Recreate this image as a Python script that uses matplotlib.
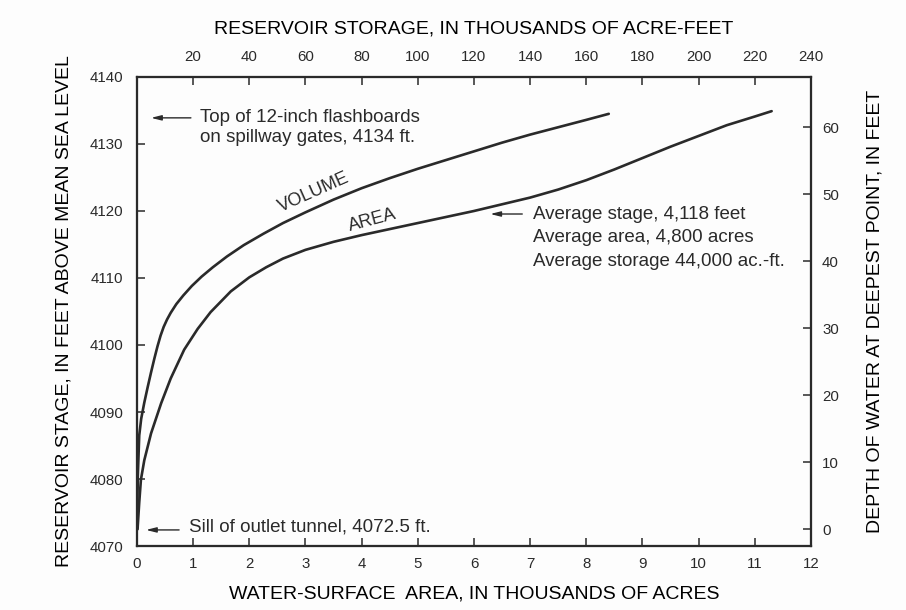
import matplotlib
matplotlib.use("Agg")
import matplotlib.pyplot as plt

# ---- data ----
volume_storage = [0, 0.3, 0.8, 1.5, 2.6, 3.8, 5.0, 6.2, 7.3, 8.4, 9.5, 10.7, 12.0, 14.0, 16.5,
                  19.5, 23.0, 27.0, 32.0, 38.0, 45.0, 52.0, 60.0, 70.0, 80.0, 90.0, 100.0,
                  110.0, 120.0, 130.0, 140.0, 150.0, 160.0, 168.0]
volume_stage = [4072.5, 4080.5, 4086.5, 4089.0, 4091.4, 4093.7, 4095.9, 4098.0, 4099.8, 4101.4,
                4102.7, 4103.8, 4104.8, 4106.1, 4107.4, 4108.8, 4110.2, 4111.6, 4113.2, 4114.9,
                4116.6, 4118.2, 4119.8, 4121.7, 4123.4, 4124.9, 4126.3, 4127.6, 4128.9,
                4130.2, 4131.4, 4132.5, 4133.6, 4134.5]

area_acres = [0.01, 0.04, 0.07, 0.13, 0.25, 0.43, 0.60, 0.84, 1.08, 1.31, 1.67, 2.0, 2.3, 2.6,
              3.0, 3.5, 4.0, 4.5, 5.0, 5.5, 6.0, 6.5, 7.0, 7.5, 8.0, 8.5, 9.0, 9.5, 10.0,
              10.5, 11.0, 11.3]
area_stage = [4072.5, 4076.5, 4079.9, 4082.8, 4086.8, 4091.3, 4095.0, 4099.3, 4102.4, 4104.9,
              4108.0, 4110.1, 4111.6, 4112.9, 4114.2, 4115.4, 4116.4, 4117.3, 4118.2, 4119.1,
              4120.0, 4121.0, 4122.0, 4123.2, 4124.6, 4126.2, 4127.9, 4129.6, 4131.2,
              4132.8, 4134.1, 4134.9]

bottom_ticks = list(range(0, 13))
top_ticks = list(range(20, 241, 20))
left_ticks = list(range(4070, 4141, 10))
right_ticks = list(range(0, 61, 10))
sill_stage = 4072.5

ink = "#2a2a2a"
plt.rcParams['font.family'] = ['Liberation Sans', 'DejaVu Sans']
plt.rcParams['text.color'] = ink
plt.rcParams['axes.edgecolor'] = ink
plt.rcParams['xtick.color'] = ink
plt.rcParams['ytick.color'] = ink

fig = plt.figure(figsize=(9.06, 6.10), dpi=100, facecolor="#fdfdfd")
ax = fig.add_axes([0.1512, 0.1049, 0.7439, 0.7689])
ax.set_facecolor("#fdfdfd")
ax.set_xlim(0, 12)
ax.set_ylim(4070, 4140)
ax.set_xticks(bottom_ticks)
ax.set_yticks(left_ticks)

ax_top = ax.twiny()
ax_top.set_xlim(0, 240)
ax_top.set_xticks(top_ticks)

ax_r = ax.twinx()
ax_r.set_ylim(4070 - sill_stage, 4140 - sill_stage)
ax_r.set_yticks(right_ticks)

for a in (ax, ax_top, ax_r):
    for s in a.spines.values():
        s.set_linewidth(1.5)
        s.set_color(ink)
    a.tick_params(direction="in", length=6, width=1.1, labelsize=10.8, colors=ink)

ax.tick_params(axis="x", pad=8)
ax.tick_params(axis="y", pad=10)
ax_top.tick_params(axis="x", pad=9)
ax_r.tick_params(axis="y", pad=8)

ax.plot(area_acres, area_stage, color=ink, lw=1.9, solid_capstyle="round", solid_joinstyle="round")
ax_top.plot(volume_storage, volume_stage, color=ink, lw=1.9, solid_capstyle="round", solid_joinstyle="round")

ax.set_xlabel("WATER-SURFACE  AREA, IN THOUSANDS OF ACRES", fontsize=14, labelpad=10)
ax_top.set_xlabel("RESERVOIR STORAGE, IN THOUSANDS OF ACRE-FEET", fontsize=14, labelpad=12)
ax.set_ylabel("RESERVOIR STAGE, IN FEET ABOVE MEAN SEA LEVEL", fontsize=14, labelpad=12)
ax_r.set_ylabel("DEPTH OF WATER AT DEEPEST POINT, IN FEET", fontsize=14, labelpad=20)

ax.text(3.15, 4122.8, "VOLUME", rotation=24, fontsize=13, ha="center", va="center")
ax.text(4.19, 4118.6, "AREA", rotation=15, fontsize=13, ha="center", va="center")

arrow = dict(arrowstyle="-|>,head_length=0.6,head_width=0.15", color=ink, lw=1.0,
             shrinkA=0, shrinkB=0)
ann_fs = 13.5

ax.annotate("", xy=(0.25, 4133.9), xytext=(0.96, 4133.9), arrowprops=arrow)
ax.text(1.13, 4133.9, "Top of 12-inch flashboards", fontsize=ann_fs, ha="left", va="center")
ax.text(1.13, 4130.9, "on spillway gates, 4134 ft.", fontsize=ann_fs, ha="left", va="center")

ax.annotate("", xy=(6.29, 4119.55), xytext=(6.86, 4119.55), arrowprops=arrow)
ax.text(7.05, 4119.55, "Average stage, 4,118 feet", fontsize=ann_fs, ha="left", va="center")
ax.text(7.05, 4115.97, "Average area, 4,800 acres", fontsize=ann_fs, ha="left", va="center")
ax.text(7.05, 4112.39, "Average storage 44,000 ac.-ft.", fontsize=ann_fs, ha="left", va="center")

ax.annotate("", xy=(0.16, 4072.4), xytext=(0.75, 4072.4), arrowprops=arrow)
ax.text(0.93, 4072.84, "Sill of outlet tunnel, 4072.5 ft.", fontsize=ann_fs, ha="left", va="center")

fig.savefig("out.png", dpi=100, facecolor=fig.get_facecolor())
